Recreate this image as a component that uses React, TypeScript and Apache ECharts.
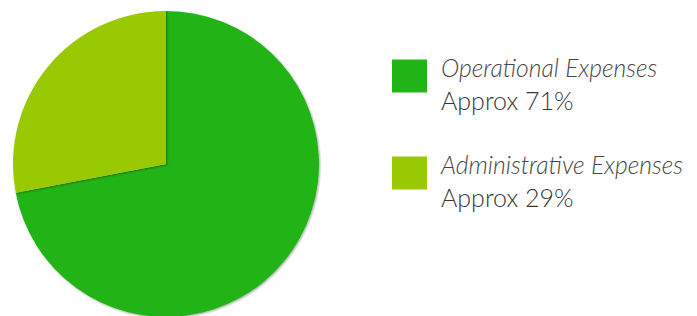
import React, { useEffect, useRef } from "react";
import * as echarts from "echarts";

const categories = ["Operational Expenses", "Administrative Expenses"];
const values = [72, 28];
const approxLabels = ["Approx 71%", "Approx 29%"];
const colors = ["#20b416", "#99c900"];
const legendTops = [55, 152];

export default function App() {
  const ref = useRef<HTMLDivElement>(null);
  useEffect(() => {
    if (!ref.current) return;
    const chart = echarts.init(ref.current, undefined, { renderer: "svg" });
    const legends = categories.map((name, i) => ({
      orient: "vertical",
      left: 392,
      top: legendTops[i],
      padding: 0,
      icon: "rect",
      itemWidth: 35,
      itemHeight: 33,
      selectedMode: false,
      data: [name],
      formatter: (n: string) => `{a|${n}}\n{b|${approxLabels[categories.indexOf(n)]}}`,
      textStyle: {
        padding: [15, 0, 0, 9],
        rich: {
          a: {
            fontFamily: "Lato",
            fontStyle: "italic",
            fontWeight: 300,
            fontSize: 24.7,
            color: "#474747",
            lineHeight: 32,
          },
          b: {
            fontFamily: "Lato",
            fontWeight: 300,
            fontSize: 25,
            color: "#383838",
            lineHeight: 32,
          },
        },
      },
    }));
    chart.setOption({
      animation: false,
      color: colors,
      legend: legends,
      series: [
        {
          type: "pie",
          center: [166, 164],
          radius: 153,
          startAngle: 90,
          clockwise: true,
          label: { show: false },
          labelLine: { show: false },
          emphasis: { disabled: true },
          itemStyle: {
            shadowBlur: 2,
            shadowOffsetX: 1,
            shadowOffsetY: 1,
            shadowColor: "rgba(0,0,0,0.35)",
          },
          data: categories.map((name, i) => ({ name, value: values[i] })),
        },
      ],
    });
    return () => chart.dispose();
  }, []);
  return (
    <div
      ref={ref}
      style={{ position: "fixed", left: 0, top: 0, width: 697, height: 316, background: "#fff" }}
    />
  );
}
